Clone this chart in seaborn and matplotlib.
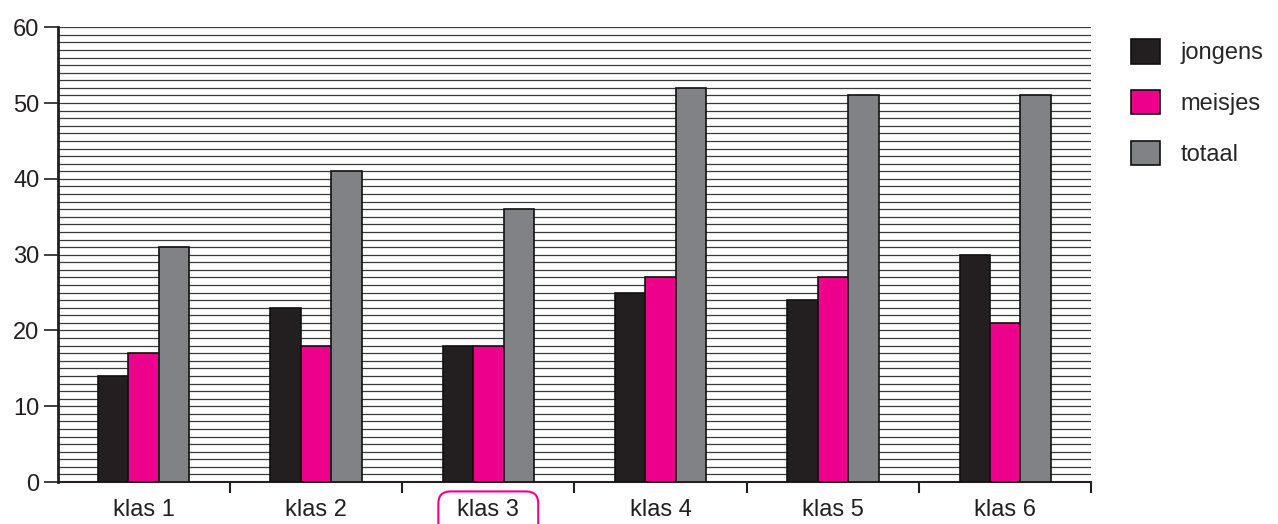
import matplotlib
matplotlib.use("Agg")
import matplotlib.pyplot as plt
import seaborn as sns
import pandas as pd
from matplotlib.ticker import MultipleLocator, FixedLocator
from matplotlib.patches import FancyBboxPatch

categories = ["klas 1", "klas 2", "klas 3", "klas 4", "klas 5", "klas 6"]
series_names = ["jongens", "meisjes", "totaal"]
jongens = [14, 23, 18, 25, 24, 30]
meisjes = [17, 18, 18, 27, 27, 21]
totaal = [31, 41, 36, 52, 51, 51]
y_ticks = [0, 10, 20, 30, 40, 50, 60]
colors = ["#231f20", "#ec008c", "#808285"]

rows = []
for name, vals in zip(series_names, [jongens, meisjes, totaal]):
    for c, v in zip(categories, vals):
        rows.append({"klas": c, "groep": name, "waarde": v})
df = pd.DataFrame(rows)

sns.set_style("white")
plt.rcParams["font.family"] = ["Liberation Sans", "DejaVu Sans"]

fig = plt.figure(figsize=(12.78, 5.24), dpi=100)
ax = fig.add_axes([0.045, 0.08, 0.809, 0.868])

sns.barplot(data=df, x="klas", y="waarde", hue="groep", palette=colors,
            order=categories, hue_order=series_names, width=0.53,
            edgecolor="#111111", linewidth=1.2, saturation=1, ax=ax, zorder=3)

ax.set_ylim(0, 60)
ax.set_xlim(-0.5, 5.5)
ax.yaxis.set_major_locator(FixedLocator(y_ticks))
ax.yaxis.set_minor_locator(MultipleLocator(1))
ax.grid(True, axis="y", which="both", color="#3a3a3a", linewidth=0.9, zorder=0)
ax.set_axisbelow(True)

ax.set_xlabel("")
ax.set_ylabel("")
for s in ["top", "right"]:
    ax.spines[s].set_visible(False)
ax.spines["left"].set_linewidth(2.0)
ax.spines["left"].set_color("#231f20")
ax.spines["bottom"].set_linewidth(1.5)
ax.spines["bottom"].set_color("#231f20")

ax.tick_params(axis="y", which="major", left=True, length=10, width=1.2,
               labelsize=17, pad=3, colors="#231f20")
ax.tick_params(axis="y", which="minor", left=False)
ax.tick_params(axis="x", which="major", bottom=False, labelsize=17, pad=9,
               colors="#231f20")
ax.xaxis.set_minor_locator(FixedLocator([0.5, 1.5, 2.5, 3.5, 4.5, 5.5]))
ax.tick_params(axis="x", which="minor", bottom=True, length=8, width=1.5,
               color="#231f20")

# rounded magenta box around "klas 3"
fig.canvas.draw()
lbl = ax.get_xticklabels()[2]
bb = lbl.get_window_extent(renderer=fig.canvas.get_renderer())
bx0, bx1 = bb.x0 - 19, bb.x1 + 19
by1 = bb.y1 + 8
by0 = -20
box = FancyBboxPatch((bx0, by0), bx1 - bx0, by1 - by0,
                     boxstyle="round,pad=0,rounding_size=12",
                     transform=None, fill=False,
                     edgecolor="#ec008c", linewidth=1.5)
fig.patches.append(box)

leg = ax.legend(title=None, loc="upper left", bbox_to_anchor=(1.018, 1.02),
                frameon=False, fontsize=17, handlelength=1.2, handleheight=1.2,
                labelspacing=1.08, handletextpad=0.9)

fig.savefig("out.png", dpi=100)
